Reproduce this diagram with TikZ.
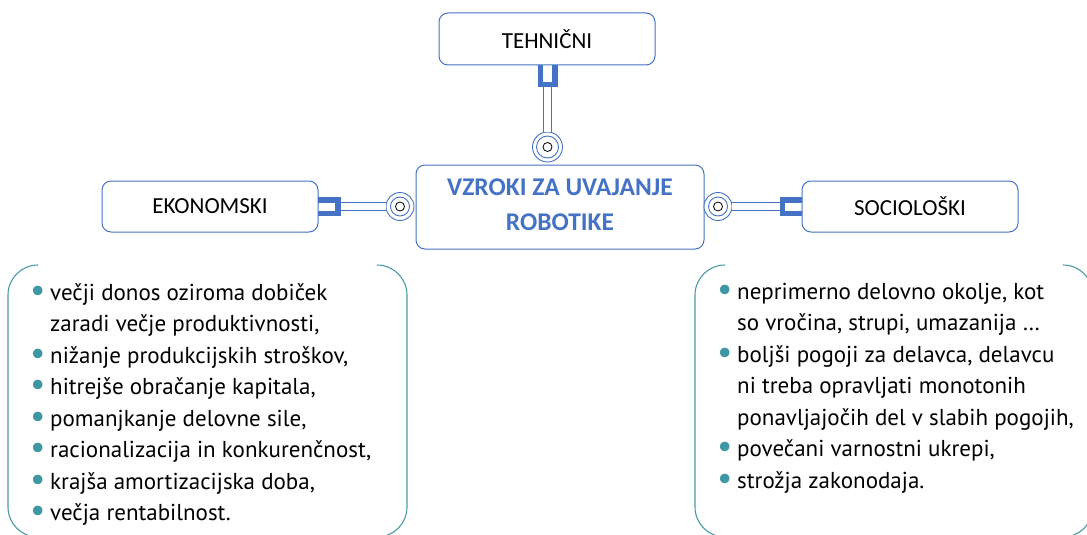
\documentclass[tikz,border=0pt]{standalone}
\usepackage{fontspec}
\setmainfont{Carlito}
\newfontfamily\listfont{PT Sans}
\definecolor{boxblue}{HTML}{4472C4}
\definecolor{brteal}{HTML}{4A9BA6}
\definecolor{dotteal}{HTML}{3E97A3}
\newcommand{\itm}{\makebox[18pt][l]{\hspace*{-2pt}\textcolor{dotteal}{\raisebox{-1pt}{\fontsize{34}{34}\selectfont\textbullet}}}}
\newcommand{\cnt}{\hspace*{18pt}}
\tikzset{
  catbox/.style={draw=boxblue, line width=1pt, rounded corners=9pt, fill=white,
    minimum width=216pt, minimum height=51pt, inner sep=0pt,
    font=\fontsize{23}{27}\selectfont, text=black},
  ubracket/.style={draw=boxblue, line width=5.2pt, line cap=butt, line join=miter},
  rail/.style={draw=boxblue, line width=0.9pt, double=white, double distance=7.6pt},
  ring/.style={circle, draw=boxblue, line width=0.9pt, inner sep=0pt, fill=white},
  hub/.style={circle, draw=black, line width=0.8pt, inner sep=0pt, minimum size=9pt},
  frame/.style={draw=brteal, line width=1.1pt},
  listtext/.style={anchor=north west, inner sep=0pt, align=left,
    font=\listfont\fontsize{23}{31.5}\selectfont, text=black}
}
\begin{document}
\begin{tikzpicture}[x=1pt,y=-1pt]
\useasboundingbox (0,0) rectangle (1087,535);

% main topic and the three categories
\node[catbox, minimum width=288pt, minimum height=84pt] (main) at (560,207) {};
\node[text=boxblue, font=\fontsize{25.5}{35}\selectfont\bfseries, align=center, anchor=base] (title) at (560,230)
  {VZROKI ZA UVAJANJE\\ROBOTIKE};
\node[catbox, minimum height=52pt] (tech) at (547,39) {TEHNIČNI};
\node[catbox] (eko) at (210,206.5) {EKONOMSKI};
\node[catbox] (soc) at (910,206.5) {SOCIOLOŠKI};

% joints: rings next to the main box
\node[ring, minimum size=30pt] (tring) at (547.5,147) {};
\node[ring, minimum size=28pt] (lring) at (400,206.5) {};
\node[ring, minimum size=28pt] (rring) at (718,206.5) {};
\foreach \r/\d in {tring/22pt, lring/19pt, rring/19pt}{
  \node[ring, minimum size=\d] (\r-in) at (\r.center) {};
  \node[hub] at (\r.center) {};
}

% U-shaped sockets on the category boxes
\coordinate (tsock) at (547.5,87);
\coordinate (lsock) at (340.5,206.5);
\coordinate (rsock) at (780,206.5);
\draw[ubracket] (540.1,65) -- (540.1,84.4) -- (554.9,84.4) -- (554.9,65);
\draw[ubracket] (318,199.9) -- (337.9,199.9) -- (337.9,213.1) -- (318,213.1);
\draw[ubracket] (802,199.9) -- (782.6,199.9) -- (782.6,213.1) -- (802,213.1);

% double rails between sockets and rings
\draw[rail] (tsock) -- (tring.north);
\draw[rail] (lsock) -- (lring.west);
\draw[rail] (rring.east) -- (rsock);

% open frames around the two lists (y axis points down)
\begin{scope}
\clip (0,0) rectangle (1087,535);
\draw[frame] (38,265) arc[start angle=-90, end angle=-180, radius=30] -- (8,507)
  arc[start angle=180, end angle=90, radius=30];
\draw[frame] (377,265) arc[start angle=-90, end angle=0, radius=30] -- (407,507)
  arc[start angle=0, end angle=90, radius=30];
\draw[frame] (725,265) arc[start angle=-90, end angle=-180, radius=30] -- (695,507)
  arc[start angle=180, end angle=90, radius=30];
\draw[frame] (1063,265) arc[start angle=-90, end angle=0, radius=30] -- (1093,507)
  arc[start angle=0, end angle=90, radius=30];
\end{scope}

% lists of reasons
\node[listtext] (ekolist) at (32,283) {%
\itm večji donos oziroma dobiček\\
\cnt zaradi večje produktivnosti,\\
\itm nižanje produkcijskih stroškov,\\
\itm hitrejše obračanje kapitala,\\
\itm pomanjkanje delovne sile,\\
\itm racionalizacija in konkurenčnost,\\
\itm krajša amortizacijska doba,\\
\itm večja rentabilnost.};
\node[listtext] (soclist) at (719,283) {%
\itm neprimerno delovno okolje, kot\\
\cnt so vročina, strupi, umazanija …\\
\itm boljši pogoji za delavca, delavcu\\
\cnt ni treba opravljati monotonih\\
\cnt ponavljajočih del v slabih pogojih,\\
\itm povečani varnostni ukrepi,\\
\itm strožja zakonodaja.};
\end{tikzpicture}
\end{document}
